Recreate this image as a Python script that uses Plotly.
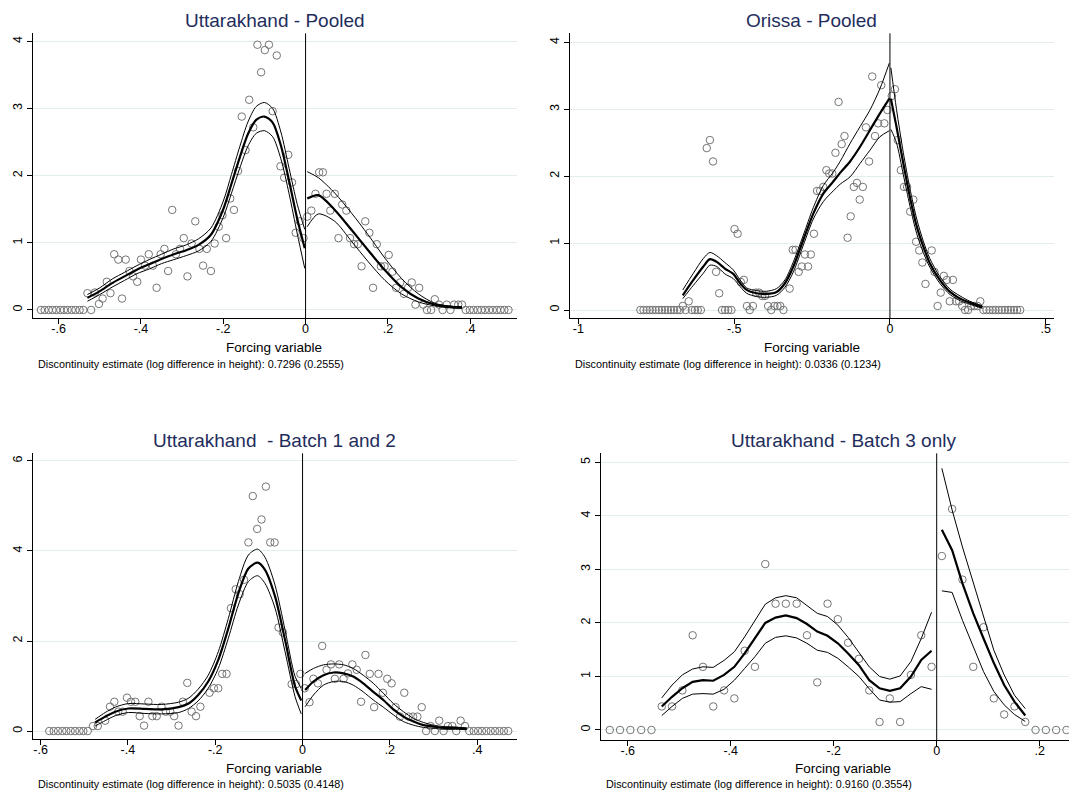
import plotly.graph_objects as go

# The page body has a default 8px margin, so the figure is drawn 8px smaller
# and every reference pixel position is shifted by that margin.
OFF = 8
W, H = 1077 - OFF, 791 - OFF
FONT = "Liberation Sans, Arial, sans-serif"

# ---------------- Panel 1: Uttarakhand - Pooled ----------------
p1_x = [-0.643, -0.634, -0.624, -0.615, -0.606, -0.596, -0.587, -0.578, -0.568, -0.559, -0.549, -0.540,
        -0.530, -0.521, -0.512, -0.502, -0.493, -0.483, -0.474, -0.465, -0.455, -0.446, -0.437, -0.428,
        -0.419, -0.409, -0.400, -0.390, -0.381, -0.371, -0.362, -0.352, -0.343, -0.334, -0.324, -0.315,
        -0.305, -0.296, -0.287, -0.277, -0.268, -0.258, -0.249, -0.240, -0.230, -0.221, -0.211, -0.202,
        -0.193, -0.183, -0.174, -0.164, -0.155, -0.146, -0.137, -0.127, -0.117, -0.108, -0.099, -0.089,
        -0.080, -0.070, -0.061, -0.052, -0.042, -0.033, -0.024, -0.014, -0.005,
        0.004, 0.014, 0.024, 0.033, 0.042, 0.051, 0.060, 0.071, 0.080, 0.089, 0.099, 0.108, 0.118, 0.127,
        0.136, 0.145, 0.155, 0.164, 0.173, 0.183, 0.192, 0.202, 0.211, 0.220, 0.230, 0.239, 0.249, 0.258,
        0.267, 0.276, 0.286, 0.295, 0.305, 0.314, 0.324, 0.333, 0.343, 0.352, 0.361, 0.371, 0.380,
        0.389, 0.399, 0.408, 0.418, 0.427, 0.436, 0.446, 0.455, 0.465, 0.474, 0.483, 0.493]
p1_y = [0, 0, 0, 0, 0, 0, 0, 0, 0, 0, 0, 0,
        0.25, 0, 0.26, 0.09, 0.17, 0.42, 0.25, 0.83, 0.75, 0.17, 0.75, 0.58,
        0.50, 0.42, 0.75, 0.66, 0.83, 0.66, 0.33, 0.83, 0.91, 0.58, 1.49, 0.83,
        0.91, 1.07, 0.50, 0.99, 1.32, 0.91, 0.66, 0.91, 0.58, 0.99, 1.24, 1.41,
        1.07, 1.66, 1.49, 2.07, 2.88, 2.38, 3.13, 2.72, 3.95, 3.54, 3.87, 3.95,
        2.96, 3.79, 2.14, 1.97, 2.31, 1.90, 1.15, 1.32, 1.07,
        1.39, 1.48, 1.73, 2.05, 2.05, 1.73, 1.48, 1.73, 1.07, 1.57, 1.48, 1.07, 0.98, 0.98,
        0.65, 1.32, 1.15, 0.33, 0.98, 0.65, 0.65, 0.82, 0.57, 0.33, 0.41, 0.24, 0.33, 0.41,
        0.08, 0.33, 0.08, 0, 0, 0.16, 0.08, 0, 0.08, 0, 0.08, 0.08, 0.08,
        0, 0, 0, 0, 0, 0, 0, 0, 0, 0, 0, 0]
p1_fl_x = [-0.53, -0.50, -0.47, -0.44, -0.41, -0.38, -0.35, -0.32, -0.29, -0.26, -0.23,
           -0.20, -0.18, -0.16, -0.14, -0.12, -0.10, -0.08, -0.06, -0.04, -0.02, -0.002]
p1_fl_mid = [0.18, 0.28, 0.40, 0.50, 0.60, 0.68, 0.76, 0.83, 0.89, 0.97, 1.12,
             1.50, 1.88, 2.27, 2.62, 2.83, 2.88, 2.79, 2.45, 1.92, 1.35, 0.92]
p1_fl_hi = [0.23, 0.33, 0.46, 0.56, 0.66, 0.75, 0.83, 0.91, 0.97, 1.06, 1.22,
            1.62, 2.02, 2.43, 2.80, 3.03, 3.09, 3.00, 2.65, 2.11, 1.57, 1.20]
p1_fl_lo = [0.13, 0.23, 0.34, 0.44, 0.54, 0.61, 0.69, 0.75, 0.81, 0.88, 1.02,
            1.38, 1.74, 2.11, 2.44, 2.63, 2.67, 2.58, 2.25, 1.73, 1.13, 0.62]
p1_fr_x = [0.004, 0.031, 0.071, 0.112, 0.152, 0.193, 0.233, 0.274, 0.314, 0.355, 0.38]
p1_fr_mid = [1.66, 1.71, 1.49, 1.19, 0.89, 0.59, 0.34, 0.17, 0.08, 0.045, 0.035]
p1_fr_hi = [2.06, 1.97, 1.74, 1.44, 1.12, 0.77, 0.47, 0.24, 0.10, 0.055, 0.05]
p1_fr_lo = [1.24, 1.43, 1.32, 1.02, 0.72, 0.44, 0.24, 0.12, 0.06, 0.03, 0.025]

# ---------------- Panel 2: Orissa - Pooled ----------------
p2_x = [-0.801, -0.791, -0.781, -0.771, -0.762, -0.752, -0.742, -0.732, -0.722, -0.713, -0.703, -0.693,
        -0.683, -0.674, -0.665, -0.656, -0.646, -0.636, -0.626, -0.617, -0.607,
        -0.588, -0.578, -0.568, -0.558, -0.548, -0.539, -0.529, -0.519, -0.509, -0.499, -0.489,
        -0.479, -0.469, -0.459, -0.450, -0.440, -0.430, -0.420, -0.410, -0.401, -0.391, -0.381,
        -0.371, -0.361, -0.352, -0.342, -0.322, -0.312, -0.303, -0.293, -0.283, -0.273, -0.263,
        -0.254, -0.244, -0.234, -0.224, -0.214, -0.204, -0.195, -0.185, -0.175, -0.165, -0.155,
        -0.146, -0.136, -0.126, -0.116, -0.106, -0.097, -0.087, -0.077, -0.067, -0.057, -0.048,
        -0.038, -0.028, -0.018, -0.008,
        0.006, 0.016, 0.025, 0.035, 0.045, 0.055, 0.065, 0.075, 0.084, 0.094, 0.104, 0.114,
        0.134, 0.143, 0.153, 0.163, 0.173, 0.183, 0.192, 0.202, 0.212, 0.222, 0.232, 0.241,
        0.251, 0.261, 0.271, 0.281, 0.290,
        0.300, 0.310, 0.320, 0.330, 0.339, 0.349, 0.359, 0.369, 0.379, 0.388, 0.398, 0.408, 0.418]
p2_y = [0, 0, 0, 0, 0, 0, 0, 0, 0, 0, 0, 0,
        0, 0, 0.06, 0, 0.13, 0, 0, 0, 0,
        2.42, 2.54, 2.22, 0.57, 0.25, 0, 0, 0, 0, 1.21, 1.14,
        0.42, 0.45, 0.06, 0, 0.06, 0.26, 0.26, 0.21, 0.21, 0.06, 0,
        0.06, 0.06, 0.06, 0, 0.32, 0.90, 0.90, 0.57, 0.65, 0.83, 0.65,
        0.83, 1.14, 1.78, 1.78, 1.84, 2.09, 2.04, 2.04, 2.35, 3.11, 2.48,
        2.60, 1.08, 1.40, 1.84, 1.90, 1.65, 1.84, 2.73, 2.22, 3.49, 2.60,
        2.79, 3.36, 2.79, 2.99,
        3.20, 3.30, 2.54, 2.09, 1.84, 1.84, 1.47, 1.65, 1.02, 0.89, 0.71, 0.39,
        0.89, 0.57, 0.06, 0.26, 0.51, 0.45, 0.13, 0.45, 0.13, 0.13, 0.06, 0,
        0, 0.06, 0.06, 0.06, 0.13,
        0, 0, 0, 0, 0, 0, 0, 0, 0, 0, 0, 0, 0]
p2_fl_x = [-0.665, -0.631, -0.599, -0.578, -0.556, -0.53, -0.503, -0.481, -0.46, -0.428, -0.396, -0.364,
           -0.337, -0.31, -0.278, -0.246, -0.214, -0.182, -0.16, -0.128, -0.096, -0.064, -0.032, -0.002]
p2_fl_mid = [0.22, 0.45, 0.65, 0.76, 0.72, 0.62, 0.54, 0.40, 0.30, 0.25, 0.24, 0.27,
             0.40, 0.65, 1.05, 1.44, 1.74, 1.92, 2.05, 2.22, 2.44, 2.69, 2.94, 3.16]
p2_fl_hi = [0.30, 0.55, 0.77, 0.86, 0.81, 0.71, 0.60, 0.45, 0.33, 0.29, 0.28, 0.32,
            0.45, 0.72, 1.12, 1.53, 1.86, 2.06, 2.22, 2.49, 2.74, 2.99, 3.31, 3.69]
p2_fl_lo = [0.17, 0.37, 0.55, 0.67, 0.65, 0.54, 0.47, 0.35, 0.25, 0.20, 0.19, 0.22,
            0.34, 0.57, 0.97, 1.36, 1.62, 1.78, 1.88, 1.99, 2.19, 2.39, 2.59, 2.68]
p2_fr_x = [0.003, 0.021, 0.043, 0.064, 0.086, 0.107, 0.128, 0.160, 0.193, 0.225, 0.257, 0.297]
p2_fr_mid = [3.16, 2.74, 2.19, 1.69, 1.25, 0.95, 0.70, 0.45, 0.27, 0.17, 0.11, 0.04]
p2_fr_hi = [3.62, 3.00, 2.35, 1.82, 1.36, 1.03, 0.77, 0.50, 0.31, 0.21, 0.13, 0.06]
p2_fr_lo = [2.70, 2.50, 2.02, 1.56, 1.14, 0.86, 0.64, 0.40, 0.23, 0.14, 0.085, 0.025]

# ---------------- Panel 3: Uttarakhand - Batch 1 and 2 ----------------
p3_x = [-0.580, -0.570, -0.560, -0.550, -0.541, -0.531, -0.521, -0.511, -0.502, -0.492,
        -0.480, -0.469, -0.452, -0.441, -0.431, -0.422, -0.412, -0.402, -0.393, -0.383, -0.373,
        -0.363, -0.353, -0.344, -0.334, -0.323, -0.313, -0.303, -0.294, -0.284, -0.274, -0.264,
        -0.254, -0.244, -0.234, -0.213, -0.203, -0.193, -0.184, -0.174, -0.164, -0.153, -0.144,
        -0.134, -0.124, -0.114, -0.104, -0.094, -0.084, -0.074, -0.064, -0.055, -0.045, -0.025,
        -0.015, -0.005,
        0.005, 0.016, 0.025, 0.035, 0.045, 0.055, 0.065, 0.074, 0.084, 0.094, 0.104, 0.114, 0.124,
        0.134, 0.144, 0.154, 0.164, 0.174, 0.184, 0.194, 0.204, 0.213, 0.223, 0.233, 0.243, 0.253,
        0.263, 0.273, 0.283, 0.293, 0.303, 0.313, 0.323, 0.333, 0.343, 0.352, 0.362, 0.372,
        0.382, 0.392, 0.402, 0.411, 0.421, 0.431, 0.441, 0.451, 0.461, 0.471]
p3_y = [0, 0, 0, 0, 0, 0, 0, 0, 0, 0,
        0.11, 0.11, 0.23, 0.54, 0.65, 0.43, 0.43, 0.74, 0.65, 0.65, 0.33,
        0.12, 0.65, 0.33, 0.33, 0.54, 0.43, 0.43, 0.33, 0.12, 0.65, 1.07,
        0.43, 0.33, 0.54, 0.85, 0.95, 0.95, 1.27, 1.27, 2.73, 3.15, 3.04,
        3.36, 4.19, 5.22, 4.49, 4.70, 5.43, 4.19, 4.19, 2.30, 2.19, 1.04,
        1.04, 1.27,
        0.95, 0.64, 1.16, 1.06, 1.89, 1.36, 1.48, 1.16, 1.48, 1.16, 1.28, 1.48, 1.36,
        0.65, 1.69, 1.27, 0.53, 1.27, 0.85, 1.16, 1.06, 0.53, 0.32, 0.85, 0.32, 0.32,
        0.32, 0.53, 0, 0.11, 0, 0.23, 0, 0.11, 0.11, 0, 0.23, 0.11,
        0, 0, 0, 0, 0, 0, 0, 0, 0, 0]
p3_fl_x = [-0.475, -0.452, -0.429, -0.399, -0.361, -0.323, -0.284, -0.261, -0.239, -0.216,
           -0.193, -0.170, -0.147, -0.124, -0.103, -0.086, -0.063, -0.040, -0.017, -0.003]
p3_fl_mid = [0.19, 0.32, 0.43, 0.50, 0.49, 0.48, 0.53, 0.61, 0.80, 1.10,
             1.58, 2.28, 3.06, 3.61, 3.74, 3.58, 2.99, 2.02, 0.99, 0.68]
p3_fl_hi = [0.26, 0.41, 0.53, 0.61, 0.60, 0.59, 0.64, 0.73, 0.93, 1.24,
            1.76, 2.50, 3.32, 3.91, 4.04, 3.86, 3.24, 2.24, 1.21, 0.95]
p3_fl_lo = [0.11, 0.23, 0.34, 0.41, 0.39, 0.38, 0.41, 0.50, 0.67, 0.95,
            1.39, 2.06, 2.80, 3.32, 3.45, 3.28, 2.73, 1.76, 0.76, 0.38]
p3_fr_x = [0.006, 0.025, 0.048, 0.071, 0.094, 0.116, 0.139, 0.162, 0.185, 0.208, 0.231,
           0.254, 0.277, 0.300, 0.322, 0.345, 0.376]
p3_fr_mid = [0.91, 1.10, 1.24, 1.30, 1.28, 1.21, 1.06, 0.87, 0.69, 0.48, 0.32,
             0.21, 0.13, 0.10, 0.07, 0.07, 0.05]
p3_fr_hi = [1.28, 1.39, 1.47, 1.49, 1.47, 1.39, 1.24, 1.06, 0.84, 0.61, 0.43,
            0.28, 0.19, 0.13, 0.10, 0.09, 0.07]
p3_fr_lo = [0.54, 0.80, 1.02, 1.10, 1.10, 1.02, 0.87, 0.69, 0.53, 0.36, 0.21,
            0.13, 0.08, 0.06, 0.04, 0.04, 0.03]

# ---------------- Panel 4: Uttarakhand - Batch 3 only ----------------
p4_x = [-0.635, -0.615, -0.595, -0.574, -0.554, -0.534, -0.514, -0.494, -0.474, -0.454, -0.434,
        -0.413, -0.393, -0.373, -0.353, -0.333, -0.313, -0.293, -0.272, -0.252, -0.232, -0.212,
        -0.192, -0.172, -0.151, -0.131, -0.111, -0.091, -0.071, -0.050, -0.030, -0.010,
        0.010, 0.030, 0.050, 0.071, 0.091, 0.111, 0.131, 0.151, 0.172,
        0.192, 0.212, 0.232, 0.252, 0.272]
p4_y = [0, 0, 0, 0, 0, 0.44, 0.44, 0.74, 1.77, 1.18, 0.44,
        0.74, 0.59, 1.48, 1.18, 3.10, 2.36, 2.36, 2.36, 1.77, 0.89, 2.36,
        2.07, 1.63, 1.33, 0.74, 0.15, 0.59, 0.15, 1.03, 1.77, 1.18,
        3.25, 4.13, 2.81, 1.18, 1.92, 0.59, 0.29, 0.44, 0.15,
        0, 0, 0, 0, 0]
p4_fl_x = [-0.534, -0.514, -0.494, -0.474, -0.454, -0.434, -0.413, -0.393, -0.373, -0.353, -0.333,
           -0.313, -0.293, -0.272, -0.252, -0.232, -0.212, -0.192, -0.172, -0.151, -0.131, -0.111,
           -0.091, -0.071, -0.050, -0.030, -0.010]
p4_fl_mid = [0.44, 0.62, 0.78, 0.90, 0.93, 0.92, 1.03, 1.18, 1.43, 1.71, 2.00, 2.10, 2.14, 2.09,
             1.98, 1.84, 1.76, 1.62, 1.43, 1.21, 0.93, 0.78, 0.73, 0.78, 1.00, 1.31, 1.48]
p4_fl_hi = [0.60, 0.84, 1.03, 1.14, 1.18, 1.17, 1.30, 1.46, 1.74, 2.05, 2.35, 2.47, 2.51, 2.47,
            2.33, 2.18, 2.12, 1.96, 1.73, 1.46, 1.18, 1.00, 0.95, 1.01, 1.28, 1.71, 2.20]
p4_fl_lo = [0.27, 0.44, 0.59, 0.67, 0.68, 0.67, 0.76, 0.93, 1.15, 1.37, 1.62, 1.73, 1.76, 1.72,
            1.62, 1.49, 1.45, 1.34, 1.18, 1.00, 0.77, 0.56, 0.52, 0.53, 0.68, 0.81, 0.76]
p4_fr_x = [0.010, 0.030, 0.050, 0.071, 0.091, 0.111, 0.131, 0.151, 0.172]
p4_fr_mid = [3.74, 3.36, 2.74, 2.18, 1.71, 1.25, 0.84, 0.53, 0.27]
p4_fr_hi = [4.89, 4.11, 3.42, 2.74, 2.09, 1.49, 1.03, 0.65, 0.40]
p4_fr_lo = [2.60, 2.57, 2.05, 1.56, 1.09, 0.72, 0.47, 0.29, 0.16]

titles = ["Uttarakhand - Pooled", "Orissa - Pooled",
          "Uttarakhand  - Batch 1 and 2", "Uttarakhand - Batch 3 only"]
notes = ["Discontinuity estimate (log difference in height): 0.7296 (0.2555)",
         "Discontinuity estimate (log difference in height): 0.0336 (0.1234)",
         "Discontinuity estimate (log difference in height): 0.5035 (0.4148)",
         "Discontinuity estimate (log difference in height): 0.9160 (0.3554)"]
xticks = [[-0.6, -0.4, -0.2, 0, 0.2, 0.4], [-1, -0.5, 0, 0.5],
          [-0.6, -0.4, -0.2, 0, 0.2, 0.4], [-0.6, -0.4, -0.2, 0, 0.2]]
xticktext = [["-.6", "-.4", "-.2", "0", ".2", ".4"], ["-1", "-.5", "0", ".5"],
             ["-.6", "-.4", "-.2", "0", ".2", ".4"], ["-.6", "-.4", "-.2", "0", ".2"]]
yticks = [[0, 1, 2, 3, 4], [0, 1, 2, 3, 4], [0, 2, 4, 6], [0, 1, 2, 3, 4, 5]]

panels = [
    dict(x=p1_x, y=p1_y, fl=(p1_fl_x, p1_fl_mid, p1_fl_hi, p1_fl_lo), fr=(p1_fr_x, p1_fr_mid, p1_fr_hi, p1_fr_lo),
         box=(32.7, 516.5, 33.3, 318.3), xr=[-0.663, 0.5125], yr=[-0.124, 4.12], shape="spline",
         title_xy=(274.6, 20), xt_xy=(274.3, 347.5), note_xy=(35.5, 364.3)),
    dict(x=p2_x, y=p2_y, fl=(p2_fl_x, p2_fl_mid, p2_fl_hi, p2_fl_lo), fr=(p2_fr_x, p2_fr_mid, p2_fr_hi, p2_fr_lo),
         box=(569.7, 1053.5, 33.3, 318.3), xr=[-1.028, 0.525], yr=[-0.124, 4.136], shape="spline",
         title_xy=(811.6, 20), xt_xy=(812.0, 347.5), note_xy=(572.5, 364.3)),
    dict(x=p3_x, y=p3_y, fl=(p3_fl_x, p3_fl_mid, p3_fl_hi, p3_fl_lo), fr=(p3_fr_x, p3_fr_mid, p3_fr_hi, p3_fr_lo),
         box=(32.7, 516.5, 453.3, 739.3), xr=[-0.618, 0.49], yr=[-0.184, 6.17], shape="spline",
         title_xy=(274.6, 440), xt_xy=(274.3, 768.0), note_xy=(35.5, 784.3)),
    dict(x=p4_x, y=p4_y, fl=(p4_fl_x, p4_fl_mid, p4_fl_hi, p4_fl_lo), fr=(p4_fr_x, p4_fr_mid, p4_fr_hi, p4_fr_lo),
         box=(601.0, 1077.0, 453.3, 740.0), xr=[-0.652, 0.2725], yr=[-0.187, 5.17], shape="linear",
         title_xy=(843.5, 440), xt_xy=(843.0, 768.0), note_xy=(603.5, 784.3)),
]


def fx(px):
    return (px - OFF) / W


def fy(py):
    return 1 - (py - OFF) / H


fig = go.Figure()
annotations = []
shapes = []
layout_axes = {}

for i, p in enumerate(panels):
    n = "" if i == 0 else str(i + 1)
    xa, ya = "x" + n, "y" + n
    # binned density points
    fig.add_trace(go.Scatter(x=p["x"], y=p["y"], mode="markers", xaxis=xa, yaxis=ya,
                             marker=dict(symbol="circle-open", size=7.5, color="#757575",
                                         line=dict(width=1, color="#757575")),
                             showlegend=False, hoverinfo="x+y"))
    for seg in (p["fl"], p["fr"]):
        sx, mid, hi, lo = seg
        for vals, wdt in ((hi, 1.0), (lo, 1.0), (mid, 2.2)):
            fig.add_trace(go.Scatter(x=sx, y=vals, mode="lines", xaxis=xa, yaxis=ya,
                                     line=dict(color="black", width=wdt, shape=p["shape"],
                                               smoothing=0.8 if p["shape"] == "spline" else None),
                                     showlegend=False, hoverinfo="skip"))
    l, r, t, b = p["box"]
    layout_axes["xaxis" + n] = dict(
        domain=[max(fx(l), 0.0), min(fx(r), 1.0)], anchor=ya, range=p["xr"],
        tickvals=xticks[i], ticktext=xticktext[i], ticks="outside", ticklen=5, tickwidth=1,
        tickcolor="black", showline=True, linecolor="black", linewidth=1, ticklabelstandoff=-6,
        showgrid=False, zeroline=False, tickfont=dict(family=FONT, size=12.5, color="black"))
    layout_axes["yaxis" + n] = dict(
        domain=[fy(b), fy(t)], anchor=xa, range=p["yr"],
        tickvals=yticks[i], ticktext=[str(v) for v in yticks[i]], ticks="outside", ticklen=5,
        tickwidth=1, tickcolor="black", showline=True, linecolor="black", linewidth=1,
        showgrid=True, gridcolor="#e3edef", gridwidth=1, zeroline=False, tickangle=-90,
        tickfont=dict(family=FONT, size=12.5, color="black"))
    shapes.append(dict(type="line", xref=xa, yref=ya + " domain", x0=0, x1=0, y0=0, y1=1,
                       line=dict(color="black", width=1)))
    tx, ty = p["title_xy"]
    annotations.append(dict(text=titles[i], x=fx(tx), y=fy(ty), xref="paper", yref="paper",
                            xanchor="center", yanchor="middle", showarrow=False,
                            font=dict(family=FONT, size=19, color="#1f2d5c")))
    ax, ay = p["xt_xy"]
    annotations.append(dict(text="Forcing variable", x=fx(ax), y=fy(ay), xref="paper", yref="paper",
                            xanchor="center", yanchor="middle", showarrow=False,
                            font=dict(family=FONT, size=13.5, color="black")))
    nx, ny = p["note_xy"]
    annotations.append(dict(text=notes[i], x=fx(nx), y=fy(ny), xref="paper", yref="paper",
                            xanchor="left", yanchor="middle", showarrow=False,
                            font=dict(family=FONT, size=10.8, color="black")))

fig.update_layout(width=W, height=H, margin=dict(l=0, r=0, t=0, b=0),
                  paper_bgcolor="white", plot_bgcolor="white",
                  annotations=annotations, shapes=shapes, showlegend=False, **layout_axes)

fig.write_html("out.html")
